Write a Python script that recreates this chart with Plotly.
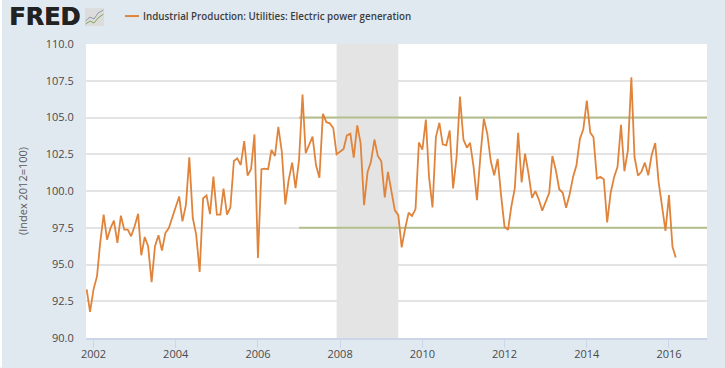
import pandas as pd
import plotly.graph_objects as go

series_name = "Industrial Production: Utilities: Electric power generation"
y_title = "(Index 2012=100)"
start_month = "2001-11-01"
values = [
    93.31, 91.77, 93.31, 94.21, 96.47, 98.39, 96.69, 97.48, 97.98, 96.47, 98.32, 97.37, 97.37,
    96.92, 97.6, 98.45, 95.63, 96.87, 96.24, 93.8, 96.24, 96.99, 95.95, 97.14, 97.48, 98.16,
    98.95, 99.63, 97.93, 99.06, 102.29, 98.16, 97.03, 94.5, 99.51, 99.7, 98.43, 100.98, 98.39,
    98.39, 100.17, 98.39, 98.88, 102.04, 102.22, 101.77, 103.4, 101.05, 101.5, 103.85, 95.45,
    101.48, 101.52, 101.48, 102.79, 102.38, 104.37, 102.67, 99.09, 100.76, 101.93, 100.19, 102.11,
    106.56, 102.58, 103.2, 103.7, 101.75, 100.9, 105.25, 104.68, 104.6, 104.28, 102.5, 102.7,
    102.86, 103.78, 103.9, 102.27, 104.46, 103.26, 99.04, 101.3, 101.98, 103.5, 102.38, 102.02,
    99.56, 101.3, 99.94, 98.7, 98.36, 96.17, 97.46, 98.52, 98.3, 98.77, 103.3, 102.81, 104.86,
    100.96, 98.88, 103.67, 104.64, 103.17, 103.1, 104.12, 100.17, 102.31, 106.42, 103.49, 102.95,
    103.28, 101.64, 99.38, 102.43, 104.91, 103.89, 102.02, 101.07, 102.18, 99.72, 97.57, 97.35,
    98.93, 100.17, 103.96, 100.58, 102.54, 101.19, 99.54, 99.99, 99.42, 98.66, 99.27, 99.88,
    102.38, 101.41, 100.12, 99.88, 98.86, 99.76, 100.96, 101.75, 103.56, 104.19, 106.15, 103.96,
    103.67, 100.85, 100.96, 100.8, 97.87, 99.88, 100.96, 101.64, 104.5, 101.34, 102.77, 107.73,
    102.31, 101.05, 101.3, 101.93, 101.07, 102.47, 103.26, 100.62, 98.93, 97.28, 99.72, 96.22, 95.48,
]
months = pd.date_range(start_month, periods=len(values), freq="MS")
band_levels = [105.0, 97.5]
band_start = "2007-01-01"
recession = ["2007-12-01", "2009-06-01"]
x_range = ["2001-10-26", "2016-12-04"]
y_ticks = [90, 92.5, 95, 97.5, 100, 102.5, 105, 107.5, 110]
x_ticks = [f"{y}-01-01" for y in range(2002, 2017, 2)]
x_labels = [str(y) for y in range(2002, 2017, 2)]

ORANGE = "#e0843c"
OLIVE = "#b3bf8c"
W, H = 725, 368
L, R, T, B = 86, 707, 44, 338.5


def px(x):
    return (x - L) / (R - L)


def py(y):
    return (B - y) / (B - T)


def poly(points):
    return "M " + " L ".join(f"{px(a)} {py(b)}" for a, b in points)


fig = go.Figure()
for lv in band_levels:
    fig.add_trace(go.Scatter(x=[band_start, x_range[1]], y=[lv, lv], mode="lines",
                             line=dict(color=OLIVE, width=2), hoverinfo="skip", showlegend=False))
fig.add_trace(go.Scatter(x=months, y=values, mode="lines", name=series_name,
                         line=dict(color=ORANGE, width=1.8), showlegend=False))

shapes = [
    dict(type="rect", xref="x", yref="paper", x0=recession[0], x1=recession[1], y0=0, y1=1,
         fillcolor="#e4e4e4", line_width=0, layer="below"),
    dict(type="rect", xref="paper", yref="paper", x0=px(0), x1=px(2), y0=py(H), y1=py(0),
         fillcolor="#ffffff", line_width=0),
    dict(type="line", xref="paper", yref="paper", x0=px(125), x1=px(139), y0=py(16), y1=py(16),
         line=dict(color=ORANGE, width=2)),
    dict(type="rect", xref="paper", yref="paper", x0=px(85), x1=px(104), y0=py(26), y1=py(8),
         fillcolor="#dcdcdc", line_width=0),
    dict(type="path", xref="paper", yref="paper",
         path=poly([(85.5, 21), (90, 17), (94, 19), (98, 13), (103.5, 10)]),
         line=dict(color="#8f9aa5", width=1)),
    dict(type="path", xref="paper", yref="paper",
         path=poly([(85.5, 24), (90, 21), (94, 23), (98, 18), (103.5, 14)]),
         line=dict(color="#7fa655", width=1)),
]
annotations = [
    dict(text="<b>FRED</b>", xref="paper", yref="paper", x=px(7), y=py(17),
         xanchor="left", yanchor="middle", showarrow=False,
         font=dict(family="DejaVu Sans", size=24, color="#222222", shadow="0.7px 0 0 #222222")),
    dict(text=series_name, xref="paper", yref="paper", x=px(141), y=py(16),
         xanchor="left", yanchor="middle", showarrow=False,
         font=dict(family="Open Sans", size=9.8, color="#3d3d3d", weight=600)),
]
fig.update_layout(
    width=W, height=H, autosize=False,
    margin=dict(l=L, r=W-R, t=T, b=H-B, autoexpand=False),
    paper_bgcolor="#e1e9f0", plot_bgcolor="#ffffff",
    shapes=shapes, annotations=annotations,
    font=dict(family="Open Sans", size=11, color="#4a4a4a"),
    xaxis=dict(range=x_range, type="date", tickvals=x_ticks, ticktext=x_labels, ticks="outside",
               ticklen=8, tickcolor="#ccd6eb", tickwidth=1, showgrid=False, showline=True,
               linecolor="#ccd6eb", linewidth=1.5, zeroline=False, ticklabelstandoff=-3,
               automargin=False, tickfont=dict(size=11, color="#4a4a4a")),
    yaxis=dict(range=[90, 110], tickvals=y_ticks, ticktext=[f"{v:.1f}" for v in y_ticks],
               showgrid=True, gridcolor="#e4e4e4", gridwidth=1.5, zeroline=False,
               ticks="outside", ticklen=9, tickcolor="rgba(0,0,0,0)", automargin=False,
               title=dict(text=y_title, standoff=15, font=dict(size=11, color="#5a5a5a")),
               tickfont=dict(size=11, color="#4a4a4a")),
)
fig.write_html("out.html", config={"displayModeBar": False},
               post_script="document.body.style.margin='0';")
